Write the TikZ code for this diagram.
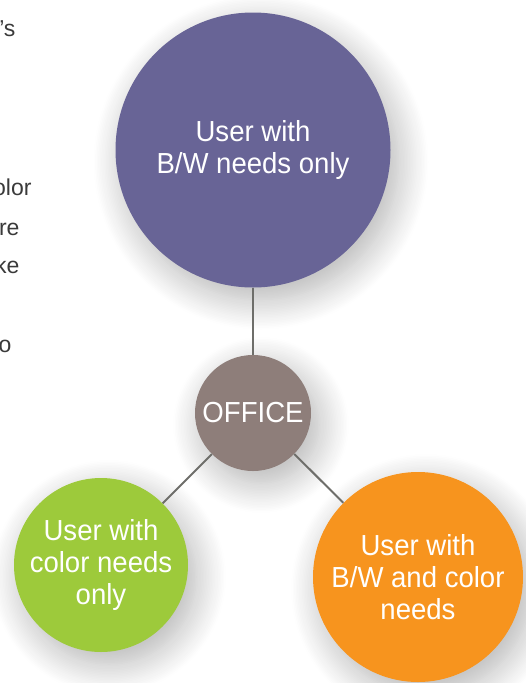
\documentclass[tikz,border=0pt]{standalone}
\usepackage{fontspec}
\setmainfont{Liberation Sans}
\newfontfamily\condfont{Liberation Sans}[FakeStretch=0.95]
\usetikzlibrary{shadows.blur}

\definecolor{bwpurple}{HTML}{686496}
\definecolor{officegray}{HTML}{8E7E7A}
\definecolor{colorgreen}{HTML}{9DCA3B}
\definecolor{mixorange}{HTML}{F7941E}
\definecolor{linegray}{HTML}{6E6E6A}
\definecolor{bodygray}{HTML}{3A3A3A}

\begin{document}
\begin{tikzpicture}
    [x=1pt, y=-1pt,
     every node/.style={font=\condfont\fontsize{29}{32}\selectfont, text=white, align=center},
     bubble/.style={circle, inner sep=0pt,
       blur shadow={shadow xshift=8pt, shadow yshift=-12pt, shadow blur radius=30pt,
                    shadow blur steps=20, shadow opacity=30}},
     spoke/.style={draw=linegray, line width=2pt},
     bodytext/.style={anchor=base east, text=bodygray, font=\fontsize{23}{27}\selectfont}]

    \useasboundingbox (0,0) rectangle (526,683);
    \clip (0,0) rectangle (526,683);

    % cut-off page text on the left
    \node[bodytext] (t1) at (19,36) {a’s};
    \node[bodytext] (t2) at (35,195) {olor};
    \node[bodytext] (t3) at (23,235) {are};
    \node[bodytext] (t4) at (23,273) {ke};
    \node[bodytext] (t5) at (15,352) {so};

    \begin{scope}
      \node[bubble, fill=bwpurple, minimum size=275pt] (bw) at (253,150) {User with\\B/W needs only};
      \node[bubble, fill=officegray, minimum size=116pt] (office) at (253,413) {OFFICE};
      \node[bubble, fill=colorgreen, minimum size=174pt] (color) at (101,565) {User with\\color needs\\only};
      \node[bubble, fill=mixorange, minimum size=210pt] (both) at (418,577) {User with\\B/W and color\\needs};
    \end{scope}

    \draw[spoke] (bw) -- (office);
    \draw[spoke] (office) -- (color);
    \draw[spoke] (office) -- (both);

  \end{tikzpicture}
\end{document}
